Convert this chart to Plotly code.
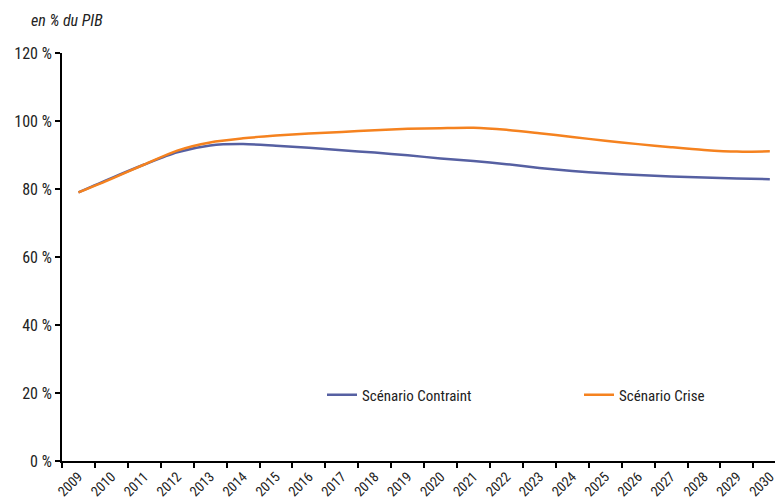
import plotly.graph_objects as go

years = [str(y) for y in range(2009, 2031)]
contraint = [79.0, 83.2, 87.2, 90.8, 92.8, 93.2, 92.7, 92.1, 91.4, 90.7, 89.9, 89.0, 88.2, 87.3, 86.2, 85.3, 84.6, 84.1, 83.7, 83.4, 83.1, 82.9]
crise = [79.0, 83.0, 87.2, 91.3, 93.7, 94.9, 95.7, 96.3, 96.8, 97.3, 97.7, 97.9, 98.0, 97.4, 96.4, 95.3, 94.2, 93.2, 92.3, 91.5, 91.0, 91.1]
y_ticks = [0, 20, 40, 60, 80, 100, 120]

FONT = "Liberation Sans Narrow, Roboto Condensed, Liberation Sans, Arial"

# page body has an 8px offset; compensate so the plot area lands where the reference has it
W, H = 775, 491
L, T, B = 54, 45, 38
PW, PH = W - L, H - T - B

fig = go.Figure()
fig.add_trace(go.Scatter(x=years, y=contraint, name="Scénario Contraint", mode="lines",
                         legend="legend",
                         line=dict(color="#5660a2", width=2.5, shape="spline", smoothing=0.8)))
fig.add_trace(go.Scatter(x=years, y=crise, name="Scénario Crise", mode="lines",
                         legend="legend2",
                         line=dict(color="#f5821f", width=2.5, shape="spline", smoothing=0.8)))

leg_common = dict(orientation="h", xanchor="left", yanchor="middle",
                  bgcolor="rgba(0,0,0,0)", font=dict(size=15), y=(461 - 395) / PH)

fig.update_layout(
    width=W, height=H,
    margin=dict(l=L, r=0, t=T, b=B, pad=0),
    paper_bgcolor="white", plot_bgcolor="white",
    font=dict(family=FONT, size=15, color="#222"),
    showlegend=True,
    legend=dict(x=(322 - 62) / PW, **leg_common),
    legend2=dict(x=(579 - 62) / PW, **leg_common),
    annotations=[dict(text="<i>en % du PIB</i>", x=(29 - 62) / PW, y=(461 - 20) / PH,
                      xref="paper", yref="paper", showarrow=False,
                      xanchor="left", yanchor="middle", font=dict(size=16))],
)
fig.update_xaxes(type="category", range=[-0.5, 21.4], tickson="boundaries",
                 ticks="outside", ticklen=5, tickcolor="black", tickwidth=1.5, showline=True,
                 linecolor="black", linewidth=2, showgrid=False, tickangle=-45,
                 automargin=False, tickfont=dict(size=14))
fig.update_yaxes(range=[0, 120], tickvals=y_ticks, ticktext=[f"{v} %" for v in y_ticks],
                 ticks="outside", ticklen=5, tickcolor="black", tickwidth=1.5, showline=True,
                 linecolor="black", linewidth=2, showgrid=False, zeroline=False,
                 automargin=False, tickfont=dict(size=16))
fig.write_html("out.html")
